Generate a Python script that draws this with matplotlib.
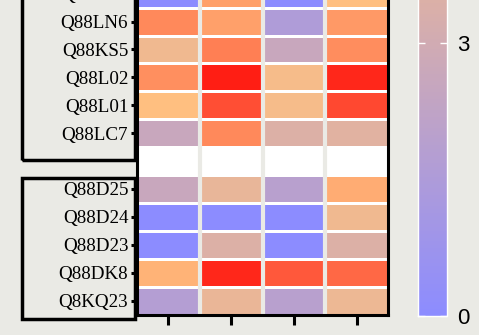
import numpy as np
import matplotlib
matplotlib.use("Agg")
import matplotlib.pyplot as plt
from matplotlib.colors import LinearSegmentedColormap, Normalize
from matplotlib.cm import ScalarMappable
from matplotlib.patches import Rectangle

# rows listed top -> bottom, blank string = empty spacer row
proteins = ["Q88LN4", "Q88LN6", "Q88KS5", "Q88L02", "Q88L01", "Q88LC7", "",
            "Q88D25", "Q88D24", "Q88D23", "Q88DK8", "Q8KQ23"]
col1 = [0.0, 6.7, 4.35, 6.5, 5.0, 2.6, np.nan, 2.6, 0.0, 0.0, 5.4, 1.75]
col2 = [6.0, 6.0, 7.0, 10.0, 8.5, 6.7, np.nan, 4.0, 0.0, 3.5, 9.7, 4.1]
col3 = [0.0, 1.55, 2.6, 4.6, 4.6, 3.5, np.nan, 1.95, 0.0, 0.0, 8.2, 1.95]
col4 = [5.0, 6.2, 6.6, 9.7, 8.7, 3.7, np.nan, 5.6, 4.35, 3.5, 7.7, 4.2]
cbar_ticks = [0, 3]

bg = "#EAEAE5"
cmap = LinearSegmentedColormap.from_list(
    "bpr", [(0.0, "#8C8CFF"), (0.5, "#FFC080"), (1.0, "#FF1E14")])
norm = Normalize(0, 10)

W, H = 479, 335
fig = plt.figure(figsize=(W / 100, H / 100), dpi=100, facecolor=bg)

def px(l, t, r, b):
    return [l / W, 1 - b / H, (r - l) / W, (b - t) / H]

nrow = len(proteins)
rowh = 27.9
ax = fig.add_axes(px(137, 314.5 - nrow * rowh, 388, 314.5))

Z = np.array([col1, col2, col3, col4]).T[::-1]  # bottom row first
ax.set_facecolor("white")
ax.pcolormesh(np.arange(5), np.arange(nrow + 1), np.ma.masked_invalid(Z),
              cmap=cmap, norm=norm, edgecolors="white", linewidth=0.8)
for j in range(1, 4):
    ax.axvline(j, color=bg, lw=3.0)
ax.set_xlim(0, 4)
ax.set_ylim(0, nrow)

labels = proteins[::-1]
ypos = [i + 0.5 for i, l in enumerate(labels) if l]
ax.set_yticks(ypos)
ax.set_yticklabels([l for l in labels if l], fontfamily="Liberation Serif",
                   fontsize=13.7)
ax.set_xticks(np.arange(4) + 0.5)
ax.set_xticklabels([])
ax.tick_params(axis="y", length=4.3, width=2.2, pad=2)
ax.tick_params(axis="x", length=7.5, width=2.2)
for s in ["left", "bottom", "right"]:
    ax.spines[s].set_linewidth(2.2)
ax.spines["top"].set_visible(False)

# boxes around the two label groups
y_split = labels.index("")
ax.add_patch(Rectangle((-1.83, y_split + 0.54), 1.8, nrow + 2, fill=False,
                       lw=2.5, ec="black", clip_on=False))
ax.add_patch(Rectangle((-1.83, -0.16), 1.8, y_split + 0.05, fill=False,
                       lw=2.5, ec="black", clip_on=False))

# colorbar
cax = fig.add_axes(px(418, 316 - 91 * 10, 447, 316))
cb = fig.colorbar(ScalarMappable(norm=norm, cmap=cmap), cax=cax)
cb.set_ticks(cbar_ticks)
cb.outline.set_edgecolor("white")
cb.outline.set_linewidth(1)
cax.tick_params(left=True, right=True, direction="in", color="white",
                length=5, width=1, pad=7, labelsize=16)
for t in cax.get_yticklabels():
    t.set_fontfamily("Liberation Sans")

fig.savefig("out.png", dpi=100, facecolor=bg)
